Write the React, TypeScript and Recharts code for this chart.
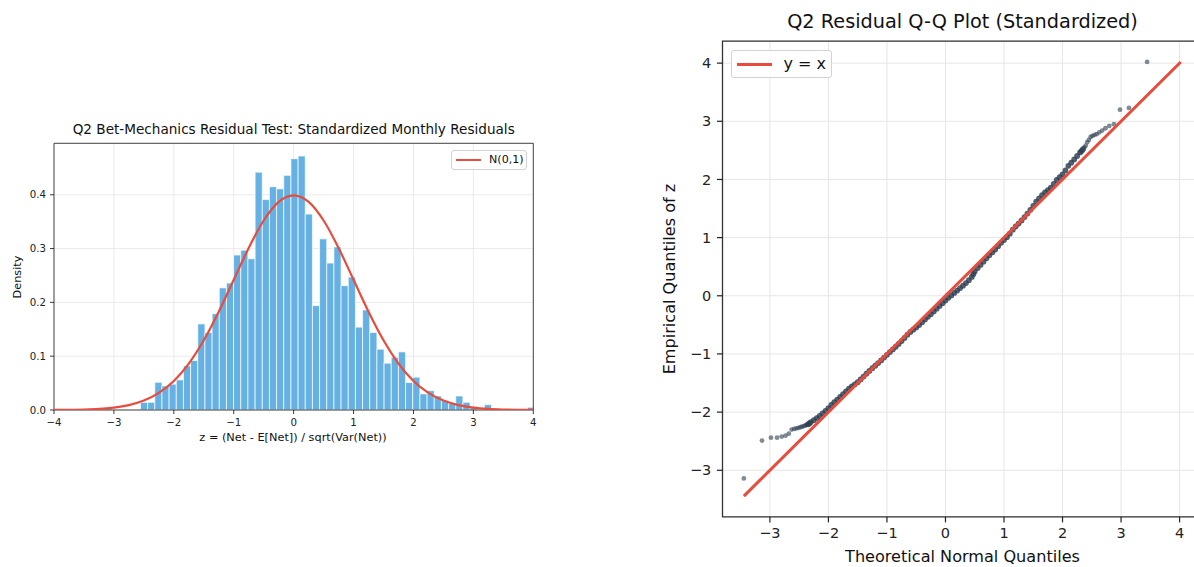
import React from "react";
import {
  ComposedChart,
  Line,
  Scatter,
  XAxis,
  YAxis,
  CartesianGrid,
  ReferenceArea,
} from "recharts";

const FONT = "'DejaVu Sans', Verdana, sans-serif";
const RED = "#E74C3C";
const BAR_BLUE = "#5DADE2";
const DOT = "#2C3E50";
const INK = "#222222";
const GRID = "#e6e6e6";

// ---- histogram of standardized residuals (60 bins, min..max of z) ----
const binStart = -3.155;
const binWidth = 0.1196;
const binDensity = [
  0.005, 0, 0, 0, 0, 0.0143, 0.0143, 0.0515, 0.0447, 0.048,
  0.056, 0.082, 0.092, 0.16, 0.144, 0.179, 0.227, 0.236, 0.288, 0.297,
  0.281, 0.442, 0.391, 0.415, 0.411, 0.436, 0.467, 0.472, 0.364, 0.194,
  0.318, 0.273, 0.303, 0.231, 0.247, 0.154, 0.186, 0.144, 0.113, 0.087,
  0.098, 0.108, 0.051, 0.061, 0.03, 0.036, 0.026, 0.017, 0.012, 0.026,
  0.0143, 0.005, 0, 0.01, 0, 0, 0, 0, 0, 0.005,
];

// N(0,1) reference curve
const curveZ = [
  -4, -3.75, -3.5, -3.25, -3, -2.75, -2.5, -2.25, -2, -1.75, -1.5, -1.25, -1,
  -0.75, -0.5, -0.25, 0, 0.25, 0.5, 0.75, 1, 1.25, 1.5, 1.75, 2, 2.25, 2.5,
  2.75, 3, 3.25, 3.5, 3.75, 4,
];
const curvePdf = [
  0.0001, 0.0004, 0.0009, 0.002, 0.0044, 0.0091, 0.0175, 0.0317, 0.054,
  0.0863, 0.1295, 0.1826, 0.242, 0.3011, 0.3521, 0.3867, 0.3989, 0.3867,
  0.3521, 0.3011, 0.242, 0.1826, 0.1295, 0.0863, 0.054, 0.0317, 0.0175,
  0.0091, 0.0044, 0.002, 0.0009, 0.0004, 0.0001,
];

const histXTicks = [-4, -3, -2, -1, 0, 1, 2, 3, 4];
const histYTicks = [0, 0.1, 0.2, 0.3, 0.4];
const histYMax = 0.4956;

// ---- Q-Q plot ----
const qqTheoretical = [
  -3.445, -3.135, -2.982, -2.878, -2.799, -2.733, -2.677, -2.629, -2.586,
  -2.548, -2.512, -2.48, -2.45, -2.422, -2.396, -2.372, -2.349, -2.326,
  -2.3, -2.25, -2.2, -2.15, -2.1, -2.05, -2.0, -1.95, -1.9, -1.85, -1.8,
  -1.75, -1.7, -1.65, -1.6, -1.55, -1.5, -1.45, -1.4, -1.35, -1.3, -1.25,
  -1.2, -1.15, -1.1, -1.05, -1.0, -0.95, -0.9, -0.85, -0.8, -0.75, -0.7,
  -0.65, -0.6, -0.55, -0.5, -0.45, -0.4, -0.35, -0.3, -0.25, -0.2, -0.15,
  -0.1, -0.05, 0, 0.05, 0.1, 0.15, 0.2, 0.25, 0.3, 0.35, 0.4, 0.45, 0.475,
  0.5, 0.55, 0.6, 0.65, 0.7, 0.75, 0.8, 0.85, 0.9, 0.95, 1.0, 1.05, 1.1,
  1.15, 1.2, 1.25, 1.3, 1.35, 1.4, 1.45, 1.5, 1.55, 1.6, 1.65, 1.7, 1.75,
  1.8, 1.85, 1.9, 1.95, 2.0, 2.05, 2.1, 2.15, 2.2, 2.25, 2.3,
  2.326, 2.349, 2.372, 2.396, 2.422, 2.45, 2.48, 2.512, 2.548, 2.586, 2.629,
  2.677, 2.733, 2.799, 2.878, 2.982, 3.135, 3.445,
];
const qqEmpirical = [
  -3.14, -2.49, -2.44, -2.44, -2.42, -2.405, -2.37, -2.3, -2.29,
  -2.28, -2.27, -2.26, -2.25, -2.24, -2.23, -2.22, -2.21, -2.195,
  -2.172, -2.138, -2.103, -2.067, -2.022, -1.978, -1.93, -1.878, -1.828,
  -1.784, -1.74, -1.692, -1.643, -1.595, -1.559, -1.522, -1.486, -1.438,
  -1.389, -1.34, -1.292, -1.245, -1.201, -1.157, -1.112, -1.063, -1.015,
  -0.968, -0.922, -0.876, -0.827, -0.779, -0.725, -0.669, -0.622, -0.583,
  -0.544, -0.502, -0.455, -0.409, -0.362, -0.316, -0.269, -0.221, -0.174,
  -0.127, -0.081, -0.036, 0.006, 0.049, 0.09, 0.132, 0.173, 0.218, 0.269,
  0.324, 0.37, 0.416, 0.477, 0.53, 0.587, 0.644, 0.697, 0.746, 0.795, 0.853,
  0.91, 0.959, 1.008, 1.068, 1.136, 1.191, 1.242, 1.296, 1.353, 1.413,
  1.477, 1.546, 1.619, 1.676, 1.731, 1.777, 1.818, 1.859, 1.922, 1.991,
  2.039, 2.088, 2.156, 2.234, 2.289, 2.344, 2.403, 2.464,
  2.49, 2.52, 2.55, 2.58, 2.64, 2.68, 2.73, 2.75, 2.765, 2.78, 2.81,
  2.84, 2.88, 2.92, 2.95, 3.2, 3.23, 4.02,
];
const refLineEnds = [-3.445, 4.02];
const qqTicks = [-3, -2, -1, 0, 1, 2, 3, 4];
// where the sorted residuals pile up into a solid band
const denseLimit = 2.36;

const minus = (v: number) => (v < 0 ? `\u2212${Math.abs(v)}` : `${v}`);

const histBins = binDensity
  .map((d, i) => ({ x1: binStart + i * binWidth, x2: binStart + (i + 1) * binWidth, d }))
  .filter((b) => b.d > 0);
const curveData = curveZ.map((z, i) => ({ z, pdf: curvePdf[i] }));
const qqData = qqTheoretical.map((x, i) => ({ x, y: qqEmpirical[i] }));
const qqCore = qqData.filter((p) => Math.abs(p.x) <= denseLimit);
const qqTails = qqData.filter((p) => Math.abs(p.x) > denseLimit);
const refData = refLineEnds.map((v) => ({ x: v, y: v }));

const Label = ({
  x,
  y,
  size,
  rotate,
  children,
}: {
  x: number;
  y: number;
  size: number;
  rotate?: boolean;
  children: React.ReactNode;
}) => (
  <div
    style={{
      position: "absolute",
      left: x,
      top: y,
      transform: `translate(-50%, -50%)${rotate ? " rotate(-90deg)" : ""}`,
      fontSize: size,
      lineHeight: 1,
      whiteSpace: "nowrap",
      color: "#111",
    }}
  >
    {children}
  </div>
);

const LegendBox = ({
  left,
  top,
  width,
  height,
  lineW,
  lineH,
  gap,
  size,
  text,
}: {
  left: number;
  top: number;
  width: number;
  height: number;
  lineW: number;
  lineH: number;
  gap: number;
  size: number;
  text: string;
}) => (
  <div
    style={{
      position: "absolute",
      left,
      top,
      width,
      height,
      boxSizing: "border-box",
      border: "1px solid #d3d3d3",
      borderRadius: 3,
      background: "rgba(255,255,255,0.85)",
      display: "flex",
      alignItems: "center",
      paddingLeft: gap * 0.45,
    }}
  >
    <div style={{ width: lineW, height: lineH, background: RED, flex: "none" }} />
    <span style={{ marginLeft: gap, fontSize: size, lineHeight: 1, color: "#111" }}>{text}</span>
  </div>
);

const HistogramPanel = () => (
  <div style={{ position: "absolute", left: 0, top: 0, width: 560, height: 460 }}>
    <ComposedChart
      width={560}
      height={460}
      data={curveData}
      margin={{ top: 143.3, right: 26.7, bottom: 20, left: 4 }}
    >
      <CartesianGrid stroke={GRID} strokeWidth={0.8} />
      <XAxis
        dataKey="z"
        type="number"
        domain={[-4, 4]}
        ticks={histXTicks}
        allowDataOverflow
        tickFormatter={minus}
        axisLine={false}
        tickLine={{ stroke: INK, strokeWidth: 0.9 }}
        tickSize={4}
        tickMargin={4.5}
        height={30}
        tick={{ fontSize: 10.2, fill: INK, fontFamily: FONT }}
      />
      <YAxis
        type="number"
        domain={[0, histYMax]}
        ticks={histYTicks}
        allowDataOverflow
        tickFormatter={(v: number) => v.toFixed(1)}
        axisLine={false}
        tickLine={{ stroke: INK, strokeWidth: 0.9 }}
        tickSize={4}
        tickMargin={4}
        width={50}
        tick={{ fontSize: 10.2, fill: INK, fontFamily: FONT }}
      />
      {histBins.map((b, i) => (
        <ReferenceArea
          key={i}
          x1={b.x1}
          x2={b.x2}
          y1={0}
          y2={b.d}
          fill={BAR_BLUE}
          fillOpacity={0.95}
          stroke="#ffffff"
          strokeWidth={0.7}
          strokeOpacity={1}
          ifOverflow="hidden"
        />
      ))}
      <Line
        dataKey="pdf"
        type="monotone"
        stroke={RED}
        strokeWidth={2.2}
        dot={false}
        activeDot={false}
        isAnimationActive={false}
      />
      <ReferenceArea
        x1={-4}
        x2={4}
        y1={0}
        y2={histYMax}
        fill="none"
        stroke="#333"
        strokeWidth={0.9}
        strokeOpacity={1}
        ifOverflow="visible"
      />
    </ComposedChart>
    <Label x={293.7} y={130} size={13.6}>
      Q2 Bet-Mechanics Residual Test: Standardized Monthly Residuals
    </Label>
    <Label x={293} y={437.5} size={11.3}>
      z = (Net - E[Net]) / sqrt(Var(Net))
    </Label>
    <Label x={18} y={277} size={11.3} rotate>
      Density
    </Label>
    <LegendBox
      left={450.7}
      top={150}
      width={76.3}
      height={20}
      lineW={25}
      lineH={2.2}
      gap={8.5}
      size={11.1}
      text="N(0,1)"
    />
  </div>
);

const renderCoreDot = (p: any) => (
  <circle cx={p.cx} cy={p.cy} r={2.9} fill={DOT} fillOpacity={0.82} />
);
const renderTailDot = (p: any) => (
  <circle cx={p.cx} cy={p.cy} r={2.4} fill={DOT} fillOpacity={0.6} />
);

const QQPanel = () => (
  <div style={{ position: "absolute", left: 640, top: 0, width: 580, height: 567 }}>
    <ComposedChart
      width={580}
      height={567}
      margin={{ top: 41.2, right: 17.6, bottom: 20.2, left: 22.5 }}
    >
      <CartesianGrid stroke={GRID} strokeWidth={1} />
      <XAxis
        dataKey="x"
        type="number"
        domain={[-3.81, 4.39]}
        ticks={qqTicks}
        allowDataOverflow
        tickFormatter={minus}
        axisLine={false}
        tickLine={{ stroke: INK, strokeWidth: 1.2 }}
        tickSize={5.6}
        tickMargin={5.6}
        height={30}
        tick={{ fontSize: 14.5, fill: INK, fontFamily: FONT }}
      />
      <YAxis
        dataKey="y"
        type="number"
        domain={[-3.8, 4.377]}
        ticks={qqTicks}
        allowDataOverflow
        tickFormatter={minus}
        axisLine={false}
        tickLine={{ stroke: INK, strokeWidth: 1.2 }}
        tickSize={5.6}
        tickMargin={5.6}
        width={60}
        tick={{ fontSize: 14.5, fill: INK, fontFamily: FONT }}
      />
      <Scatter data={qqTails} dataKey="y" shape={renderTailDot} isAnimationActive={false} />
      <Scatter data={qqCore} dataKey="y" shape={renderCoreDot} isAnimationActive={false} />
      <Line
        data={refData}
        dataKey="y"
        type="linear"
        stroke={RED}
        strokeWidth={3}
        dot={false}
        activeDot={false}
        isAnimationActive={false}
        {...({ zIndex: 700 } as any)}
      />
      <ReferenceArea
        x1={-3.81}
        x2={4.39}
        y1={-3.8}
        y2={4.377}
        fill="none"
        stroke="#333"
        strokeWidth={1.3}
        strokeOpacity={1}
        ifOverflow="visible"
      />
    </ComposedChart>
    <Label x={322.5} y={22} size={19.3}>
      Q2 Residual Q-Q Plot (Standardized)
    </Label>
    <Label x={322.5} y={556.5} size={16.1}>
      Theoretical Normal Quantiles
    </Label>
    <Label x={29.5} y={279} size={16.1} rotate>
      Empirical Quantiles of z
    </Label>
    <LegendBox
      left={91}
      top={50.3}
      width={101.4}
      height={27.7}
      lineW={35}
      lineH={3}
      gap={11.4}
      size={16}
      text="y = x"
    />
  </div>
);

export default function App() {
  return (
    <div
      style={{
        position: "fixed",
        left: 0,
        top: 0,
        width: 1194,
        height: 567,
        overflow: "hidden",
        background: "#ffffff",
        fontFamily: FONT,
      }}
    >
      <HistogramPanel />
      <QQPanel />
    </div>
  );
}
